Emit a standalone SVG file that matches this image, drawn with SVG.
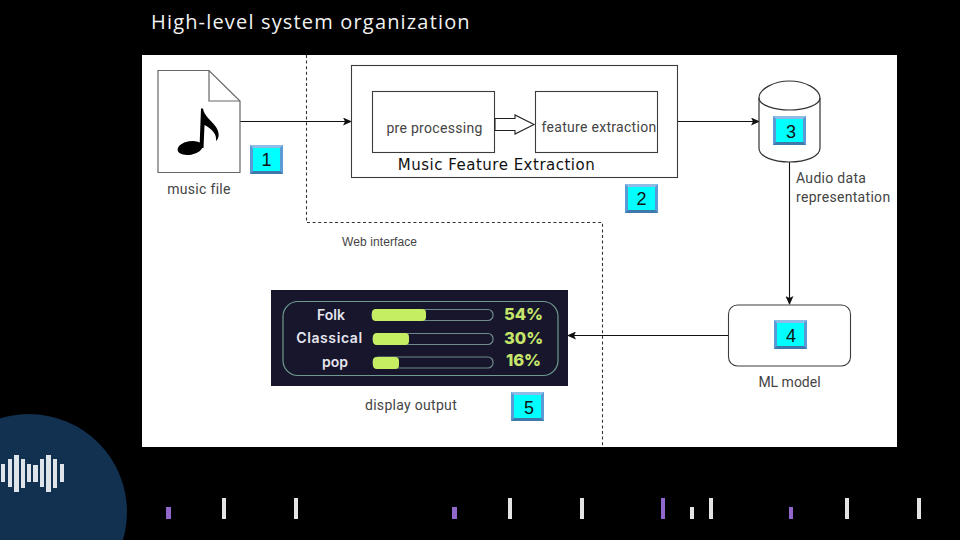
<svg xmlns="http://www.w3.org/2000/svg" width="960" height="540" viewBox="0 0 960 540">
<defs>
<style>
.box{fill:#fff;stroke:#3c3c3c;stroke-width:1.1}
.conn{fill:none;stroke:#111;stroke-width:1.1}
.dash{fill:none;stroke:#333;stroke-width:1.1;stroke-dasharray:3 2.6}
.lbl{font-family:"Roboto","Liberation Sans",sans-serif;font-size:14px;fill:#444;letter-spacing:0.3px}
.num{font-family:"Liberation Sans",sans-serif;font-size:18px;fill:#111;text-anchor:middle}
.w{fill:#e4e4e4}.p{fill:#9068cc}.wv{fill:#dfe4ea}
.dl{font-family:"Inter","Liberation Sans",sans-serif;font-weight:600;font-size:14px;fill:#e6e6ee;text-anchor:middle}
.dp{font-family:"Inter","Liberation Sans",sans-serif;font-weight:800;font-size:16.500px;fill:#c6e56a;text-anchor:middle}
.track{fill:none;stroke:#6f8a88;stroke-width:1.2}
.bar{fill:#c6ee62}
</style>
<marker id="arr" markerWidth="10" markerHeight="8" refX="8" refY="4" orient="auto" markerUnits="userSpaceOnUse"><path d="M0 0L9 4L0 8L2 4Z" fill="#111"/></marker>
<symbol id="badge" viewBox="0 0 33 29" overflow="visible">
<rect x="0" y="0" width="33" height="29" fill="#5b9bd5"/>
<rect x="3" y="3" width="27" height="23" fill="#0ff"/>
<path d="M0 0H33L30 3H3Z" fill="#8dbde6"/><path d="M0 29H33L30 26H3Z" fill="#3f78ab"/>
</symbol>
</defs>
<rect width="960" height="540" fill="#000"/>
<text x="151" y="29" font-family="'Open Sans','Noto Sans',sans-serif" font-size="20" letter-spacing="1.17" fill="#f2f2f2">High-level system organization</text>
<rect x="142" y="55" width="755" height="392" fill="#fff"/>
<g id="connectors">
<path class="dash" d="M306.500 55V222.500H602.500V447"/>
<path class="conn" d="M240 121.500H351" marker-end="url(#arr)"/>
<path class="conn" d="M678 121.500H759" marker-end="url(#arr)"/>
<path class="conn" d="M789.500 162V304" marker-end="url(#arr)"/>
<path class="conn" d="M728 335.500H568" marker-end="url(#arr)"/>
</g>
<g id="node-file">
<path d="M158 70.500H209L240 101V172.500H158Z" fill="#fff" stroke="#666" stroke-width="1.2"/>
<path d="M209 70.500V101H240" fill="none" stroke="#666" stroke-width="1.2"/>
<ellipse cx="190" cy="148" rx="12.500" ry="6.800" transform="rotate(-10 190 148)" fill="#000"/>
<path d="M199.500 148L201 108.500H203C204 116 211 120 216 127C220 133 219 139 216 141C217 134 212 129 204.500 125L203.500 148Z" fill="#000"/>
<text class="lbl" x="199" y="194" text-anchor="middle">music file</text>
<use href="#badge" x="250" y="145" width="33" height="29"/>
<text class="num" x="266.500" y="166">1</text>
</g>
<g id="node-extraction">
<rect class="box" x="351.500" y="65.500" width="326" height="112"/>
<text x="496.500" y="170" text-anchor="middle" font-family="'DejaVu Sans',sans-serif" font-size="15" letter-spacing="0.5" fill="#111">Music Feature Extraction</text>
<use href="#badge" x="625" y="184" width="33" height="29"/>
<text class="num" x="641.500" y="205">2</text>
</g>
<g id="node-preprocessing">
<rect class="box" x="372.500" y="91.500" width="122" height="61"/>
<text class="lbl" x="434.500" y="133" text-anchor="middle">pre processing</text>
</g>
<g id="node-feature">
<rect class="box" x="535.500" y="91.500" width="122" height="61"/>
<text class="lbl" x="599" y="132" text-anchor="middle">feature extraction</text>
</g>
<g id="block-arrow">
<path d="M495 118.500H515V115L534 124.500L515 134V130.500H495Z" fill="#fff" stroke="#222" stroke-width="1.1"/>
</g>
<g id="node-db">
<path d="M759 98V148C759 157 774 162 789.500 162C805 162 820 157 820 148V98C820 89 805 81 789.500 81C774 81 759 89 759 98Z" fill="#fff" stroke="#333" stroke-width="1.2"/>
<path d="M759 98C759 105 774 110 789.500 110C805 110 820 105 820 98" fill="none" stroke="#333" stroke-width="1.2"/>
<use href="#badge" x="773" y="116" width="33" height="29"/>
<text class="num" x="791" y="138">3</text>
<text class="lbl" x="796" y="183">Audio data</text>
<text class="lbl" x="796" y="202">representation</text>
</g>
<g id="node-ml">
<rect class="box" x="728.500" y="305" width="122" height="61" rx="9"/>
<use href="#badge" x="774" y="320" width="33" height="29"/>
<text class="num" x="791" y="342">4</text>
<text class="lbl" x="789.500" y="387" text-anchor="middle" style="letter-spacing:0">ML model</text>
</g>
<g id="node-display">
<rect x="271" y="290" width="297" height="96" fill="#17162c"/>
<rect x="283" y="301.500" width="275" height="74" rx="15" fill="none" stroke="#6f9a8e" stroke-width="1.2"/>
<rect class="track" x="372" y="309.500" width="121" height="11" rx="5"/>
<rect class="bar" x="372" y="309" width="54" height="12" rx="4"/>
<rect class="track" x="373" y="333.500" width="120" height="11" rx="5"/>
<rect class="bar" x="373" y="333" width="36" height="12" rx="4"/>
<rect class="track" x="373" y="357" width="120" height="11" rx="5"/>
<rect class="bar" x="373" y="357" width="26" height="12" rx="4"/>
<text class="dl" x="331" y="320">Folk</text>
<text class="dl" x="329.500" y="343" style="letter-spacing:0.6px">Classical</text>
<text class="dl" x="335" y="367">pop</text>
<text class="dp" x="523.500" y="320">54%</text>
<text class="dp" x="523.500" y="344">30%</text>
<text class="dp" x="523.500" y="366">16%</text>
<text class="lbl" x="411" y="410" text-anchor="middle">display output</text>
<use href="#badge" x="511" y="392" width="33" height="29"/>
<text class="num" x="529" y="414">5</text>
</g>
<text x="342" y="246" font-family="'Liberation Sans',sans-serif" font-size="12" letter-spacing="0.1" fill="#444">Web interface</text>
<g id="logo">
<circle cx="29" cy="512" r="98" fill="#12304f"/>
<rect class="wv" x="1" y="464" width="4" height="18"/><rect class="wv" x="8" y="459" width="4" height="28"/><rect class="wv" x="14" y="455" width="5" height="37"/><rect class="wv" x="21" y="459" width="4" height="29"/><rect class="wv" x="27" y="464" width="4" height="18"/><rect class="wv" x="33" y="465" width="5" height="17"/><rect class="wv" x="40" y="459" width="4" height="28"/><rect class="wv" x="46" y="455" width="5" height="37"/><rect class="wv" x="53" y="459" width="4" height="29"/><rect class="wv" x="60" y="464" width="4" height="18"/>
</g>
<g id="ticks">
<rect class="p" x="166" y="507" width="5" height="12"/>
<rect class="w" x="222" y="498" width="4" height="21"/>
<rect class="w" x="294" y="498" width="4" height="21"/>
<rect class="p" x="452" y="507" width="5" height="12"/>
<rect class="w" x="508" y="498" width="4" height="21"/>
<rect class="w" x="580" y="498" width="4" height="21"/>
<rect class="p" x="661" y="498" width="4" height="21"/>
<rect class="w" x="690" y="507" width="4" height="12"/>
<rect class="w" x="709" y="498" width="4" height="21"/>
<rect class="p" x="789" y="507" width="4" height="12"/>
<rect class="w" x="845" y="498" width="4" height="21"/>
<rect class="w" x="917" y="498" width="4" height="21"/>
</g>
</svg>
